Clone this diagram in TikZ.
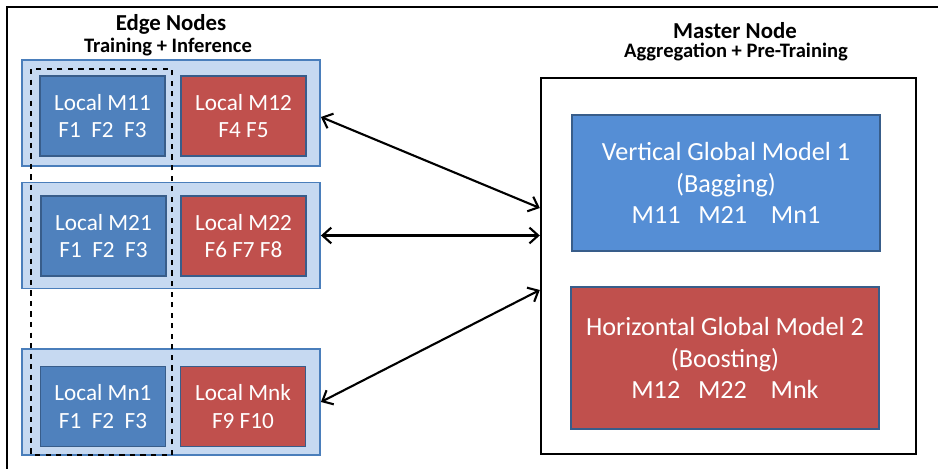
\documentclass[tikz,border=0pt]{standalone}
\usepackage{fontspec}
\setmainfont{Carlito}
\usepackage{tikz}
\usetikzlibrary{arrows.meta, calc}

\definecolor{locblue}{HTML}{4F81BD}
\definecolor{locred}{HTML}{C0504D}
\definecolor{edgefill}{HTML}{C6D9F1}
\definecolor{edgeline}{HTML}{4A7EBB}
\definecolor{boxline}{HTML}{385D8A}
\definecolor{globblue}{HTML}{558ED5}

\begin{document}
\begin{tikzpicture}[x=0.02cm, y=-0.02cm,
	    >={Straight Barb[length=5pt,width=9pt]},
	    edgebox/.style={draw=edgeline, fill=edgefill, line width=1.1pt, inner sep=0pt,
	      minimum width=5.96cm, minimum height=2.12cm},
	    localbox/.style={draw=boxline, line width=1.1pt, text=white, align=center, inner sep=0pt,
	      minimum width=2.5cm, minimum height=1.6cm, font=\fontsize{13.2}{15.5}\selectfont},
	    globbox/.style={draw=boxline, line width=1.1pt, text=white, align=center, inner sep=0pt,
	      minimum width=6.16cm, font=\fontsize{14.9}{18}\selectfont},
	    title/.style={anchor=base, font=\bfseries\fontsize{13}{15}\selectfont},
	    subtitle/.style={anchor=base, font=\bfseries\fontsize{11.7}{14}\selectfont},
	    link/.style={<->, line width=1.2pt}
	  ]
	  \useasboundingbox (0,0) rectangle (938,469);
	  \draw[line width=1.7pt] (7,7) rectangle (950,480); % outer frame
	 
	  % edge side
	  \node[title]    (edget) at (171,31) {Edge Nodes};
	  \node[subtitle] (edges) at (168,53) {Training + Inference};
	 
	  \node[edgebox] (r1) at (171,113) {};
	  \node[edgebox] (r2) at (171,235.5) {};
	  \node[edgebox] (r3) at (171,402) {};
	 
	  \node[localbox, fill=locblue] (m11) at (102.5,116) {Local M11\\F1\ \ F2\ \ F3};
	  \node[localbox, fill=locred]  (m12) at (243.5,116) {Local M12\\F4 F5};
	  \node[localbox, fill=locblue] (m21) at (103.5,236) {Local M21\\F1\ \ F2\ \ F3};
	  \node[localbox, fill=locred]  (m22) at (243.5,236) {Local M22\\F6 F7 F8};
	  \node[localbox, fill=locblue] (mn1) at (103,406.5) {Local Mn1\\F1\ \ F2\ \ F3};
	  \node[localbox, fill=locred]  (mnk) at (243,406.5) {Local Mnk\\F9 F10};
	 
	  \draw[dashed, line width=0.9pt] (31,69) rectangle (172,455); % first column
	 
	  % master side
	  \node[title]    (mastt) at (735,39) {Master Node};
	  \node[subtitle] (masts) at (736,58) {Aggregation + Pre-Training};
	 
	  \node[draw, line width=1.4pt, minimum width=7.5cm, minimum height=7.52cm, inner sep=0pt]
	    (master) at (728.5,266) {};
	  \node[globbox, fill=globblue, minimum height=2.72cm] (vgm) at (726,183)
	    {Vertical Global Model 1\\(Bagging)\\M11\ \ \ M21\ \ \ \ Mn1};
	  \node[globbox, fill=locred, minimum height=2.84cm] (hgm) at (725,358)
	    {Horizontal Global Model 2\\(Boosting)\\M12\ \ \ M22\ \ \ \ Mnk};
	 
	  \draw[link] ($(r1.east)+(0,4)$) -- ($(master.west)+(0,-58)$);
	  \draw[link] (r2.east) -- (r2.east -| master.west);
	  \draw[link] (r3.east) -- ($(master.west)+(0,24)$);
	\end{tikzpicture}
\end{document}
